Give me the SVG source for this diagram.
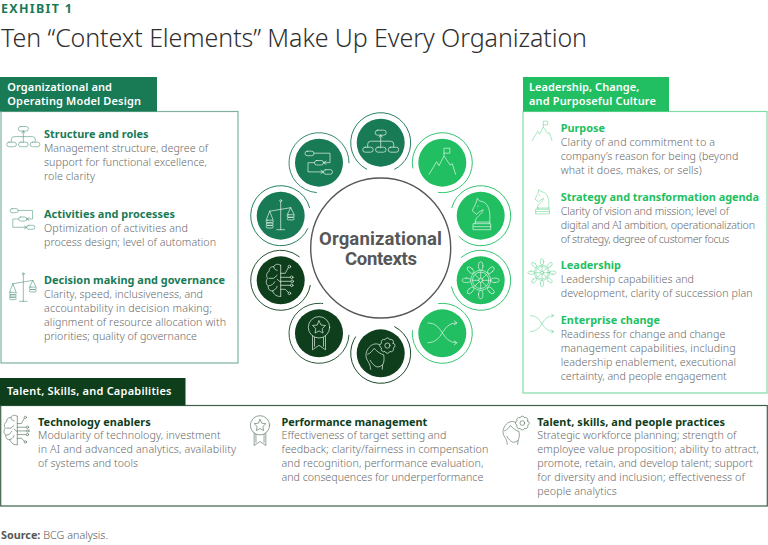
<svg xmlns="http://www.w3.org/2000/svg" width="768" height="545" viewBox="0 0 768 545">
<style>
text{font-family:"Noto Sans","Liberation Sans",sans-serif}
.b{font-size:10.7px;fill:#6a6a6a;font-weight:300}
.hm,.hb,.hd{font-size:10.9px;font-weight:700}
.hm{fill:#197a56}.hb{fill:#21bf61}.hd{fill:#0e3e1b}
.tab{font-size:11px;font-weight:600;fill:#fff}
.ctr{font-family:Roboto,"Noto Sans",sans-serif;font-size:18.500px;font-weight:700;fill:#575757}
.ic{fill:none;stroke-width:.7;stroke-linecap:round;stroke-linejoin:round}
.w{stroke:#e4f3ea}.m{stroke:#5d9f87}.g{stroke:#5fd28e}.d{stroke:#53705c}
.ring{fill:none;stroke-width:.85}
.dm{fill:#197a56}.dg{fill:#21bf61}.dd{fill:#0e3e1b}
.rm{stroke:#197a56}.rg{stroke:#21bf61}.rd{stroke:#0e3e1b}
</style>
<defs>
<g id="i-org">
<rect x="-5.5" y="-12.5" width="11" height="5" rx="2.5"/>
<path d="M0 -7.5V5M0 -7.5l-1.5 2M0 -7.5l1.5 2M-13 4.5V1.5Q-13 -1.5 -10 -1.5H10Q13 -1.5 13 1.5V4.5"/>
<rect x="-18" y="4.5" width="10.5" height="5" rx="2.5"/><rect x="-5.2" y="4.5" width="10.5" height="5" rx="2.5"/><rect x="7.5" y="4.5" width="10.5" height="5" rx="2.5"/>
</g>
<g id="i-proc">
<rect x="-14" y="-11.5" width="9" height="4.5" rx="2.2"/><rect x="-4.5" y="-2.2" width="9" height="4.5" rx="2.2"/><rect x="4.5" y="7" width="9" height="4.5" rx="2.2"/>
<path d="M-5 -9.5H11V0H4.5M7 -1.6L4.5 0L7 1.6M-4.5 0H-11V9.2H4.5M2 7.6L4.5 9.2L2 10.8"/>
</g>
<g id="i-scale">
<circle cx="0" cy="-15" r="1"/>
<path d="M0 -14V14M-4 14H4M-11 -4.5L10 -8M-11 -4.5L-14.5 4.5M-11 -4.5L-7.5 4.5M10 -8L6.5 -1M10 -8L13.5 -1"/>
<rect x="-14.5" y="4.5" width="7" height="2.6" rx="1.3"/><rect x="-14.5" y="7.1" width="7" height="2.6" rx="1.3"/><rect x="-14.5" y="9.7" width="7" height="2.6" rx="1.3"/>
<rect x="6.5" y="-1" width="7" height="2.6" rx="1.3"/><rect x="6.5" y="1.6" width="7" height="2.6" rx="1.3"/>
</g>
<g id="i-mtn">
<path d="M-13.3 11.7L-5.7 -1L-3.3 3L1.7 -6.7L7.7 2.3L10 1L13.3 11.7M1.7 -6.7V-14.5H7.5V-9.5H1.7"/>
</g>
<g id="i-knight">
<path d="M-5.5 6C-5.5 1 1.5 -1 2.5 -6L-2 -3.5L-4 -1.2L-8.5 -5C-7 -9 -4 -12 -3.5 -17.5L-1 -14.5C5 -14.5 10.5 -9 9 6Z"/>
<rect x="-7.3" y="8" width="17.3" height="6"/><path d="M-5.5 6V8M9 6V8M-7.3 11H10M-3 -9.5h.6"/>
</g>
<g id="i-helm">
<circle r="10"/><circle r="8.2"/><circle r="2"/>
<g id="spk"><path d="M0 -2V-8.2"/><ellipse cy="-14.3" rx="2.2" ry="4.2"/></g>
<use href="#spk" transform="rotate(45)"/><use href="#spk" transform="rotate(90)"/><use href="#spk" transform="rotate(135)"/><use href="#spk" transform="rotate(180)"/><use href="#spk" transform="rotate(225)"/><use href="#spk" transform="rotate(270)"/><use href="#spk" transform="rotate(315)"/>
</g>
<g id="i-shuf">
<path d="M-14.5 -10.5C2 -10.5 -2 9.5 14.5 9.5M-14.5 9.5C2 9.5 -2 -10.5 14.5 -10.5M12 -12.5L14.5 -10.5L12 -8.5M12 7.5L14.500 9.5L12 11.5"/>
</g>
<g id="i-brain">
<path d="M0 -15V16M0 -15C-3 -17 -6 -16 -7 -13.5C-10 -14 -12 -11.500 -11.500 -9C-14 -8 -15 -4 -13 -2C-15 0 -15 4 -12.500 5.500C-13 9 -10.500 11 -8 10.500C-7.500 14 -3 17 0 16M-7 -13.500C-6.500 -11 -5 -10 -3.500 -10M-11.500 -2H-7L-3.500 -5M-12 5.500C-9 5.500 -7 3.500 -6 1.500M-8 10.500C-6.500 10 -4 8.500 -3.500 6M-3.500 -1L0 2"/>
<path d="M0 -7H4.500L7.500 -12.500M0 -3H9.500M0 1H10M0 5H9.500M0 9H4.500L7.500 12"/>
<circle cx="8.700" cy="-13.700" r="1.300"/><circle cx="11" cy="-3" r="1.300"/><circle cx="11.500" cy="1" r="1.300"/><circle cx="11" cy="5" r="1.300"/><circle cx="8.700" cy="13" r="1.300"/>
</g>
<g id="i-medal">
<circle cy="-6" r="10.700"/>
<path d="M0 -12.500L2 -8.300L6.500 -7.800L3.200 -4.700L4 -.2L0 -2.400L-4 -.2L-3.200 -4.700L-6.500 -7.800L-2 -8.300Z"/>
<path d="M-6.500 2.700V16.500L0 12L6.500 16.500V2.700M-4.500 4V13M4.500 4V13"/>
</g>
<g id="i-head">
<path d="M-1 -8.500C-3 -10 -8 -10 -11 -6.500C-15 -2.500 -16 3 -13 7.500C-12 9.500 -10.500 11 -10 16M-13 1C-10 0 -8 -3 -6.500 -5C-4 -2 0 1 3 1.500C3.500 5 3.500 8 2.500 10.500C1 13 -2 14 -4 13.500C-6 13 -9 10 -10.500 7M2 11.500L1.500 16"/>
<g transform="translate(6.700 -7.700)">
<path d="M5.820 -2.410A2.500 2.500 0 0 1 5.820 2.410A2.500 2.500 0 0 1 2.410 5.820A2.500 2.500 0 0 1 -2.410 5.820A2.500 2.500 0 0 1 -5.820 2.410A2.500 2.500 0 0 1 -5.820 -2.410A2.500 2.500 0 0 1 -2.410 -5.820A2.500 2.500 0 0 1 2.410 -5.820A2.500 2.500 0 0 1 5.820 -2.410Z"/>
<circle r="2.600"/>
</g>
</g>
</defs>

<g id="heading">
<text x="1" y="13" font-size="12.500" font-weight="700" fill="#197a56" textLength="71">EXHIBIT 1</text>
<text x="1" y="47" font-size="25" font-weight="300" fill="#2f2f2f" textLength="586">Ten “Context Elements” Make Up Every Organization</text>
</g>

<g id="panel-organizational">
<rect x="1" y="111.500" width="237" height="251.500" fill="#fff" stroke="#7fb3a0" stroke-width="1.200"/>
<rect x="0" y="77" width="157" height="34.500" fill="#197a56"/>
<text class="tab" x="7.300" y="90.700" textLength="104.700">Organizational and</text>
<text class="tab" x="7.300" y="104.700" textLength="133.700">Operating Model Design</text>
<use class="ic m" href="#i-org" transform="translate(23.300 138) scale(.92)"/>
<use class="ic m" href="#i-proc" transform="translate(22.700 219) scale(.9)"/>
<use class="ic m" href="#i-scale" transform="translate(23.300 288) scale(.95)"/>
<text class="hm" x="44" y="137.500" textLength="104.500">Structure and roles</text>
<text class="b" x="44" y="151.500" textLength="164">Management structure, degree of</text>
<text class="b" x="44" y="165.500" textLength="163">support for functional excellence,</text>
<text class="b" x="44" y="179.500" textLength="51">role clarity</text>
<text class="hm" x="44" y="217.500" textLength="131">Activities and processes</text>
<text class="b" x="44" y="231.500" textLength="144">Optimization of activities and</text>
<text class="b" x="44" y="245.500" textLength="172">process design; level of automation</text>
<text class="hm" x="44" y="283.500" textLength="181">Decision making and governance</text>
<text class="b" x="44" y="297.500" textLength="159">Clarity, speed, inclusiveness, and</text>
<text class="b" x="44" y="311.500" textLength="168">accountability in decision making;</text>
<text class="b" x="44" y="325.500" textLength="182">alignment of resource allocation with</text>
<text class="b" x="44" y="339.500" textLength="153">priorities; quality of governance</text>
</g>

<g id="panel-leadership">
<rect x="523" y="111.500" width="244" height="281.500" fill="#fff" stroke="#84dba8" stroke-width="1.200"/>
<rect x="523" y="77" width="146" height="34.500" fill="#21bf61"/>
<text class="tab" x="529" y="90.700" textLength="110.300">Leadership, Change,</text>
<text class="tab" x="529" y="104.700" textLength="127">and Purposeful Culture</text>
<use class="ic g" href="#i-mtn" transform="translate(542 132) scale(.75)"/>
<use class="ic g" href="#i-knight" transform="translate(541.700 203) scale(.78)"/>
<use class="ic g" href="#i-helm" transform="translate(542 272.700) scale(.76)"/>
<use class="ic g" href="#i-shuf" transform="translate(542 324) scale(.8)"/>
<text class="hb" x="560.700" y="132" textLength="44.300">Purpose</text>
<text class="b" x="560.700" y="145.500" textLength="154.300">Clarity of and commitment to a</text>
<text class="b" x="560.700" y="159.500" textLength="177.600">company’s reason for being (beyond</text>
<text class="b" x="560.700" y="173.500" textLength="141">what it does, makes, or sells)</text>
<text class="hb" x="560.700" y="201" textLength="198.300">Strategy and transformation agenda</text>
<text class="b" x="560.700" y="214.500" textLength="168.300">Clarity of vision and mission; level of</text>
<text class="b" x="560.700" y="228.500" textLength="194.300">digital and AI ambition, operationalization</text>
<text class="b" x="560.700" y="242.500" textLength="168.600">of strategy, degree of customer focus</text>
<text class="hb" x="560.700" y="269" textLength="60.300">Leadership</text>
<text class="b" x="560.700" y="283" textLength="133.300">Leadership capabilities and</text>
<text class="b" x="560.700" y="297" textLength="192">development, clarity of succession plan</text>
<text class="hb" x="560.700" y="324" textLength="99.300">Enterprise change</text>
<text class="b" x="560.700" y="338" textLength="164.600">Readiness for change and change</text>
<text class="b" x="560.700" y="352" textLength="175">management capabilities, including</text>
<text class="b" x="560.700" y="366" textLength="175.300">leadership enablement, executional</text>
<text class="b" x="560.700" y="380" textLength="166">certainty, and people engagement</text>
</g>

<g id="panel-talent">
<rect x=".700" y="405.500" width="766.600" height="100.500" fill="#fff" stroke="#3d6148" stroke-width="1.200"/>
<rect x="0" y="378" width="185.500" height="27.500" fill="#0e3e1b"/>
<text class="tab" x="7" y="395" textLength="164.500">Talent, Skills, and Capabilities</text>
<use class="ic d" href="#i-brain" transform="translate(17.300 430) scale(.92)"/>
<use class="ic d" href="#i-medal" transform="translate(260 430.700) scale(.9)"/>
<use class="ic d" href="#i-head" transform="translate(516.300 430) scale(.9)"/>
<text class="hd" x="38" y="425.500" textLength="112.700">Technology enablers</text>
<text class="b" x="38" y="439" textLength="182.700">Modularity of technology, investment</text>
<text class="b" x="38" y="453" textLength="198">in AI and advanced analytics, availability</text>
<text class="b" x="38" y="467" textLength="100">of systems and tools</text>
<text class="hd" x="281.500" y="425.500" textLength="145.800">Performance management</text>
<text class="b" x="281.500" y="439" textLength="164.800">Effectiveness of target setting and</text>
<text class="b" x="281.500" y="453" textLength="206.800">feedback; clarity/fairness in compensation</text>
<text class="b" x="281.500" y="467" textLength="201.800">and recognition, performance evaluation,</text>
<text class="b" x="281.500" y="480.500" textLength="201.800">and consequences for underperformance</text>
<text class="hd" x="537.300" y="425.500" textLength="187.700">Talent, skills, and people practices</text>
<text class="b" x="537.300" y="439" textLength="199">Strategic workforce planning; strength of</text>
<text class="b" x="537.300" y="453" textLength="221.700">employee value proposition; ability to attract,</text>
<text class="b" x="537.300" y="467" textLength="215.700">promote, retain, and develop talent; support</text>
<text class="b" x="537.300" y="480.500" textLength="207.400">for diversity and inclusion; effectiveness of</text>
<text class="b" x="537.300" y="494.500" textLength="79.400">people analytics</text>
</g>

<g id="node-center">
<circle cx="380.700" cy="248" r="70" fill="#fff" stroke="#575757" stroke-width="1.400"/>
<text class="ctr" x="319" y="244.500" textLength="123">Organizational</text>
<text class="ctr" x="345" y="265.200" textLength="72">Contexts</text>
</g>

<g id="node-structure" transform="translate(380.700 142.700)">
<circle class="ring rm" r="30" pathLength="360" stroke-dasharray="306 54" transform="rotate(117)"/>
<circle class="dm" r="24"/><use class="ic w" href="#i-org"/>
</g>
<g id="node-activities" transform="translate(319 162.700)">
<circle class="ring rm" r="30" pathLength="360" stroke-dasharray="267 93" transform="rotate(94)"/>
<circle class="dm" r="24"/><use class="ic w" href="#i-proc"/>
</g>
<g id="node-decision" transform="translate(280.700 215.700)">
<circle class="ring rm" r="30" pathLength="360" stroke-dasharray="320 40" transform="rotate(25)"/>
<circle class="dm" r="24"/><use class="ic w" href="#i-scale"/>
</g>
<g id="node-technology" transform="translate(280.700 280.300)">
<circle class="ring rd" r="30" pathLength="360" stroke-dasharray="300 60" transform="rotate(9)"/>
<circle class="dd" r="24"/><use class="ic w" href="#i-brain"/>
</g>
<g id="node-performance" transform="translate(319 333.300)">
<circle class="ring rd" r="30" pathLength="360" stroke-dasharray="275 85" transform="rotate(3)"/>
<circle class="dd" r="24"/><use class="ic w" href="#i-medal"/>
</g>
<g id="node-talent" transform="translate(380.700 353.300)">
<circle class="ring rd" r="30" pathLength="360" stroke-dasharray="277 83" transform="rotate(297)"/>
<circle class="dd" r="24"/><use class="ic w" href="#i-head"/>
</g>
<g id="node-change" transform="translate(442.300 333.300)">
<circle class="ring rg" r="30" pathLength="360" stroke-dasharray="284 76" transform="rotate(262)"/>
<circle class="dg" r="24"/><use class="ic w" href="#i-shuf"/>
</g>
<g id="node-leadership" transform="translate(480.700 280.300)">
<circle class="ring rg" r="30" pathLength="360" stroke-dasharray="299 61" transform="rotate(229)"/>
<circle class="dg" r="24"/><use class="ic w" href="#i-helm"/>
</g>
<g id="node-strategy" transform="translate(480.700 215.700)">
<circle class="ring rg" r="30" pathLength="360" stroke-dasharray="302 58" transform="rotate(195)"/>
<circle class="dg" r="24"/><use class="ic w" href="#i-knight"/>
</g>
<g id="node-purpose" transform="translate(442.300 162.700)">
<circle class="ring rg" r="30" pathLength="360" stroke-dasharray="289 71" transform="rotate(169)"/>
<circle class="dg" r="24"/><use class="ic w" href="#i-mtn"/>
</g>

<g id="source">
<text x="1" y="539" font-size="10.800" fill="#575757"><tspan font-weight="700">Source:</tspan><tspan font-weight="300"> BCG analysis.</tspan></text>
</g>
</svg>
